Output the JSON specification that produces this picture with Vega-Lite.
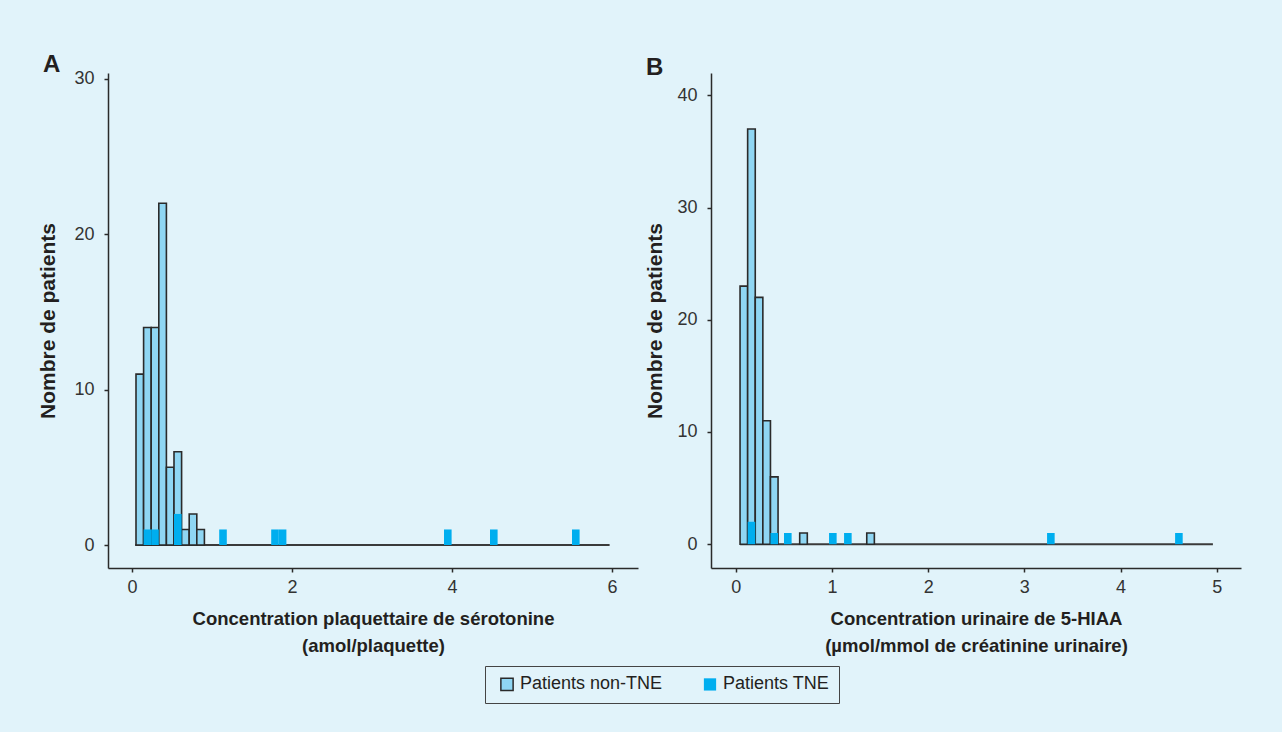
{
  "$schema": "https://vega.github.io/schema/vega-lite/v6.json",
  "background": "#e1f3fa",
  "padding": {"left": 37, "top": 52, "right": 41, "bottom": 28},
  "bounds": "flush",
  "spacing": 73,
  "data": {
    "values": [
      {"panel": "A", "kind": "base", "x0": 0.04, "x1": 5.97, "count": 0},
      {"panel": "A", "kind": "bar", "group": "Patients non-TNE", "x0": 0.05, "x1": 0.145, "count": 11},
      {"panel": "A", "kind": "bar", "group": "Patients non-TNE", "x0": 0.145, "x1": 0.24, "count": 14},
      {"panel": "A", "kind": "bar", "group": "Patients non-TNE", "x0": 0.24, "x1": 0.335, "count": 14},
      {"panel": "A", "kind": "bar", "group": "Patients non-TNE", "x0": 0.335, "x1": 0.43, "count": 22},
      {"panel": "A", "kind": "bar", "group": "Patients non-TNE", "x0": 0.43, "x1": 0.525, "count": 5},
      {"panel": "A", "kind": "bar", "group": "Patients non-TNE", "x0": 0.525, "x1": 0.62, "count": 6},
      {"panel": "A", "kind": "bar", "group": "Patients non-TNE", "x0": 0.62, "x1": 0.715, "count": 1},
      {"panel": "A", "kind": "bar", "group": "Patients non-TNE", "x0": 0.715, "x1": 0.81, "count": 2},
      {"panel": "A", "kind": "bar", "group": "Patients non-TNE", "x0": 0.81, "x1": 0.905, "count": 1},
      {"panel": "A", "kind": "bar", "group": "Patients TNE", "x0": 0.145, "x1": 0.24, "count": 1},
      {"panel": "A", "kind": "bar", "group": "Patients TNE", "x0": 0.24, "x1": 0.335, "count": 1},
      {"panel": "A", "kind": "bar", "group": "Patients TNE", "x0": 0.525, "x1": 0.62, "count": 2},
      {"panel": "A", "kind": "bar", "group": "Patients TNE", "x0": 1.09, "x1": 1.185, "count": 1},
      {"panel": "A", "kind": "bar", "group": "Patients TNE", "x0": 1.74, "x1": 1.835, "count": 1},
      {"panel": "A", "kind": "bar", "group": "Patients TNE", "x0": 1.835, "x1": 1.93, "count": 1},
      {"panel": "A", "kind": "bar", "group": "Patients TNE", "x0": 3.9, "x1": 3.995, "count": 1},
      {"panel": "A", "kind": "bar", "group": "Patients TNE", "x0": 4.475, "x1": 4.57, "count": 1},
      {"panel": "A", "kind": "bar", "group": "Patients TNE", "x0": 5.5, "x1": 5.595, "count": 1},
      {"panel": "B", "kind": "base", "x0": 0.045, "x1": 4.96, "count": 0},
      {"panel": "B", "kind": "bar", "group": "Patients non-TNE", "x0": 0.045, "x1": 0.124, "count": 23},
      {"panel": "B", "kind": "bar", "group": "Patients non-TNE", "x0": 0.124, "x1": 0.203, "count": 37},
      {"panel": "B", "kind": "bar", "group": "Patients non-TNE", "x0": 0.203, "x1": 0.282, "count": 22},
      {"panel": "B", "kind": "bar", "group": "Patients non-TNE", "x0": 0.282, "x1": 0.361, "count": 11},
      {"panel": "B", "kind": "bar", "group": "Patients non-TNE", "x0": 0.361, "x1": 0.44, "count": 6},
      {"panel": "B", "kind": "bar", "group": "Patients non-TNE", "x0": 0.665, "x1": 0.744, "count": 1},
      {"panel": "B", "kind": "bar", "group": "Patients non-TNE", "x0": 1.362, "x1": 1.441, "count": 1},
      {"panel": "B", "kind": "bar", "group": "Patients TNE", "x0": 0.124, "x1": 0.203, "count": 2},
      {"panel": "B", "kind": "bar", "group": "Patients TNE", "x0": 0.361, "x1": 0.44, "count": 1},
      {"panel": "B", "kind": "bar", "group": "Patients TNE", "x0": 0.502, "x1": 0.581, "count": 1},
      {"panel": "B", "kind": "bar", "group": "Patients TNE", "x0": 0.97, "x1": 1.049, "count": 1},
      {"panel": "B", "kind": "bar", "group": "Patients TNE", "x0": 1.126, "x1": 1.205, "count": 1},
      {"panel": "B", "kind": "bar", "group": "Patients TNE", "x0": 3.236, "x1": 3.315, "count": 1},
      {"panel": "B", "kind": "bar", "group": "Patients TNE", "x0": 4.567, "x1": 4.646, "count": 1}
    ]
  },
  "hconcat": [
    {
      "width": 530,
      "height": 495,
      "title": {"text": "A", "anchor": "start", "frame": "group", "dx": -65, "offset": -7, "fontSize": 24},
      "transform": [{"filter": "datum.panel == 'A'"}],
      "layer": [
        {
          "transform": [{"filter": "datum.kind == 'base'"}],
          "mark": {"type": "rule", "color": "#3a3a3a", "strokeWidth": 2},
          "encoding": {
            "x": {"field": "x0", "type": "quantitative", "scale": {"domain": [-0.3, 6.325], "nice": false, "zero": false}},
            "x2": {"field": "x1"},
            "y": {"field": "count", "type": "quantitative", "scale": {"domain": [-1.48, 30.38], "nice": false, "zero": false}}
          }
        },
        {
          "transform": [{"filter": "datum.kind == 'bar'"}],
          "mark": {"type": "bar", "strokeWidth": 1.6},
          "encoding": {
            "x": {"field": "x0", "type": "quantitative", "scale": {"domain": [-0.3, 6.325], "nice": false, "zero": false},
                  "axis": {"values": [0, 2, 4, 6], "format": "d", "title": ["Concentration plaquettaire de sérotonine", "(amol/plaquette)"]}},
            "x2": {"field": "x1"},
            "y": {"field": "count", "type": "quantitative", "scale": {"domain": [-1.48, 30.38], "nice": false, "zero": false},
                  "axis": {"values": [0, 10, 20, 30], "format": "d", "title": "Nombre de patients", "titlePadding": 15}},
            "y2": {"datum": 0},
            "fill": {"field": "group", "type": "nominal", "scale": {"domain": ["Patients non-TNE", "Patients TNE"], "range": ["#8fd6f3", "#00aeef"]}, "legend": {"title": null, "labelExpr": "datum.label == 'Patients TNE' ? datum.label + '\u00a0\u00a0\u00a0\u00a0\u00a0' : datum.label"}},
            "stroke": {"field": "group", "type": "nominal", "scale": {"domain": ["Patients non-TNE", "Patients TNE"], "range": ["#2a2a2a", "rgba(0,0,0,0)"]}, "legend": {"title": null, "labelExpr": "datum.label == 'Patients TNE' ? datum.label + '\u00a0\u00a0\u00a0\u00a0\u00a0' : datum.label"}}
          }
        }
      ]
    },
    {
      "width": 530,
      "height": 495,
      "title": {"text": "B", "anchor": "start", "frame": "group", "dx": -65, "offset": -7, "fontSize": 24},
      "transform": [{"filter": "datum.panel == 'B'"}],
      "layer": [
        {
          "transform": [{"filter": "datum.kind == 'base'"}],
          "mark": {"type": "rule", "color": "#3a3a3a", "strokeWidth": 2},
          "encoding": {
            "x": {"field": "x0", "type": "quantitative", "scale": {"domain": [-0.257, 5.252], "nice": false, "zero": false}},
            "x2": {"field": "x1"},
            "y": {"field": "count", "type": "quantitative", "scale": {"domain": [-2.12, 41.99], "nice": false, "zero": false}}
          }
        },
        {
          "transform": [{"filter": "datum.kind == 'bar'"}],
          "mark": {"type": "bar", "strokeWidth": 1.6},
          "encoding": {
            "x": {"field": "x0", "type": "quantitative", "scale": {"domain": [-0.257, 5.252], "nice": false, "zero": false},
                  "axis": {"values": [0, 1, 2, 3, 4, 5], "format": "d", "title": ["Concentration urinaire de 5-HIAA", "(µmol/mmol de créatinine urinaire)"]}},
            "x2": {"field": "x1"},
            "y": {"field": "count", "type": "quantitative", "scale": {"domain": [-2.12, 41.99], "nice": false, "zero": false},
                  "axis": {"values": [0, 10, 20, 30, 40], "format": "d", "title": "Nombre de patients", "titlePadding": 11}},
            "y2": {"datum": 0},
            "fill": {"field": "group", "type": "nominal", "scale": {"domain": ["Patients non-TNE", "Patients TNE"], "range": ["#8fd6f3", "#00aeef"]}, "legend": {"title": null, "labelExpr": "datum.label == 'Patients TNE' ? datum.label + '\u00a0\u00a0\u00a0\u00a0\u00a0' : datum.label"}},
            "stroke": {"field": "group", "type": "nominal", "scale": {"domain": ["Patients non-TNE", "Patients TNE"], "range": ["#2a2a2a", "rgba(0,0,0,0)"]}, "legend": {"title": null, "labelExpr": "datum.label == 'Patients TNE' ? datum.label + '\u00a0\u00a0\u00a0\u00a0\u00a0' : datum.label"}}
          }
        }
      ]
    }
  ],
  "resolve": {"scale": {"x": "independent", "y": "independent", "fill": "shared", "stroke": "shared"}},
  "config": {
    "view": {"stroke": null},
    "font": "Liberation Sans",
    "title": {"font": "Liberation Sans", "fontWeight": "bold", "color": "#231f20", "baseline": "bottom"},
    "axis": {
      "grid": false,
      "domainColor": "#2a2a2a",
      "domainWidth": 1.5,
      "tickColor": "#2a2a2a",
      "tickWidth": 1.5,
      "tickSize": 4,
      "labelFont": "Liberation Sans",
      "labelFontSize": 18,
      "labelColor": "#333333",
      "titleFont": "Liberation Sans",
      "titleFontWeight": "bold",
      "titleColor": "#231f20"
    },
    "axisX": {"labelPadding": 6, "titlePadding": 13, "titleLineHeight": 27, "titleFontSize": 18.5},
    "axisY": {"labelPadding": 10, "titleFontSize": 21},
    "legend": {
      "orient": "none",
      "legendX": 377,
      "legendY": 593,
      "direction": "horizontal",
      "strokeColor": "#444444",
      "fillColor": "#e1f3fa",
      "padding": 9,
      "symbolType": "square",
      "symbolSize": 150,
      "symbolStrokeWidth": 1.5,
      "symbolOffset": 4,
      "labelFont": "Liberation Sans",
      "labelFontSize": 18,
      "labelColor": "#231f20",
      "columnPadding": 34,
      "labelOffset": 4
    }
  }
}
